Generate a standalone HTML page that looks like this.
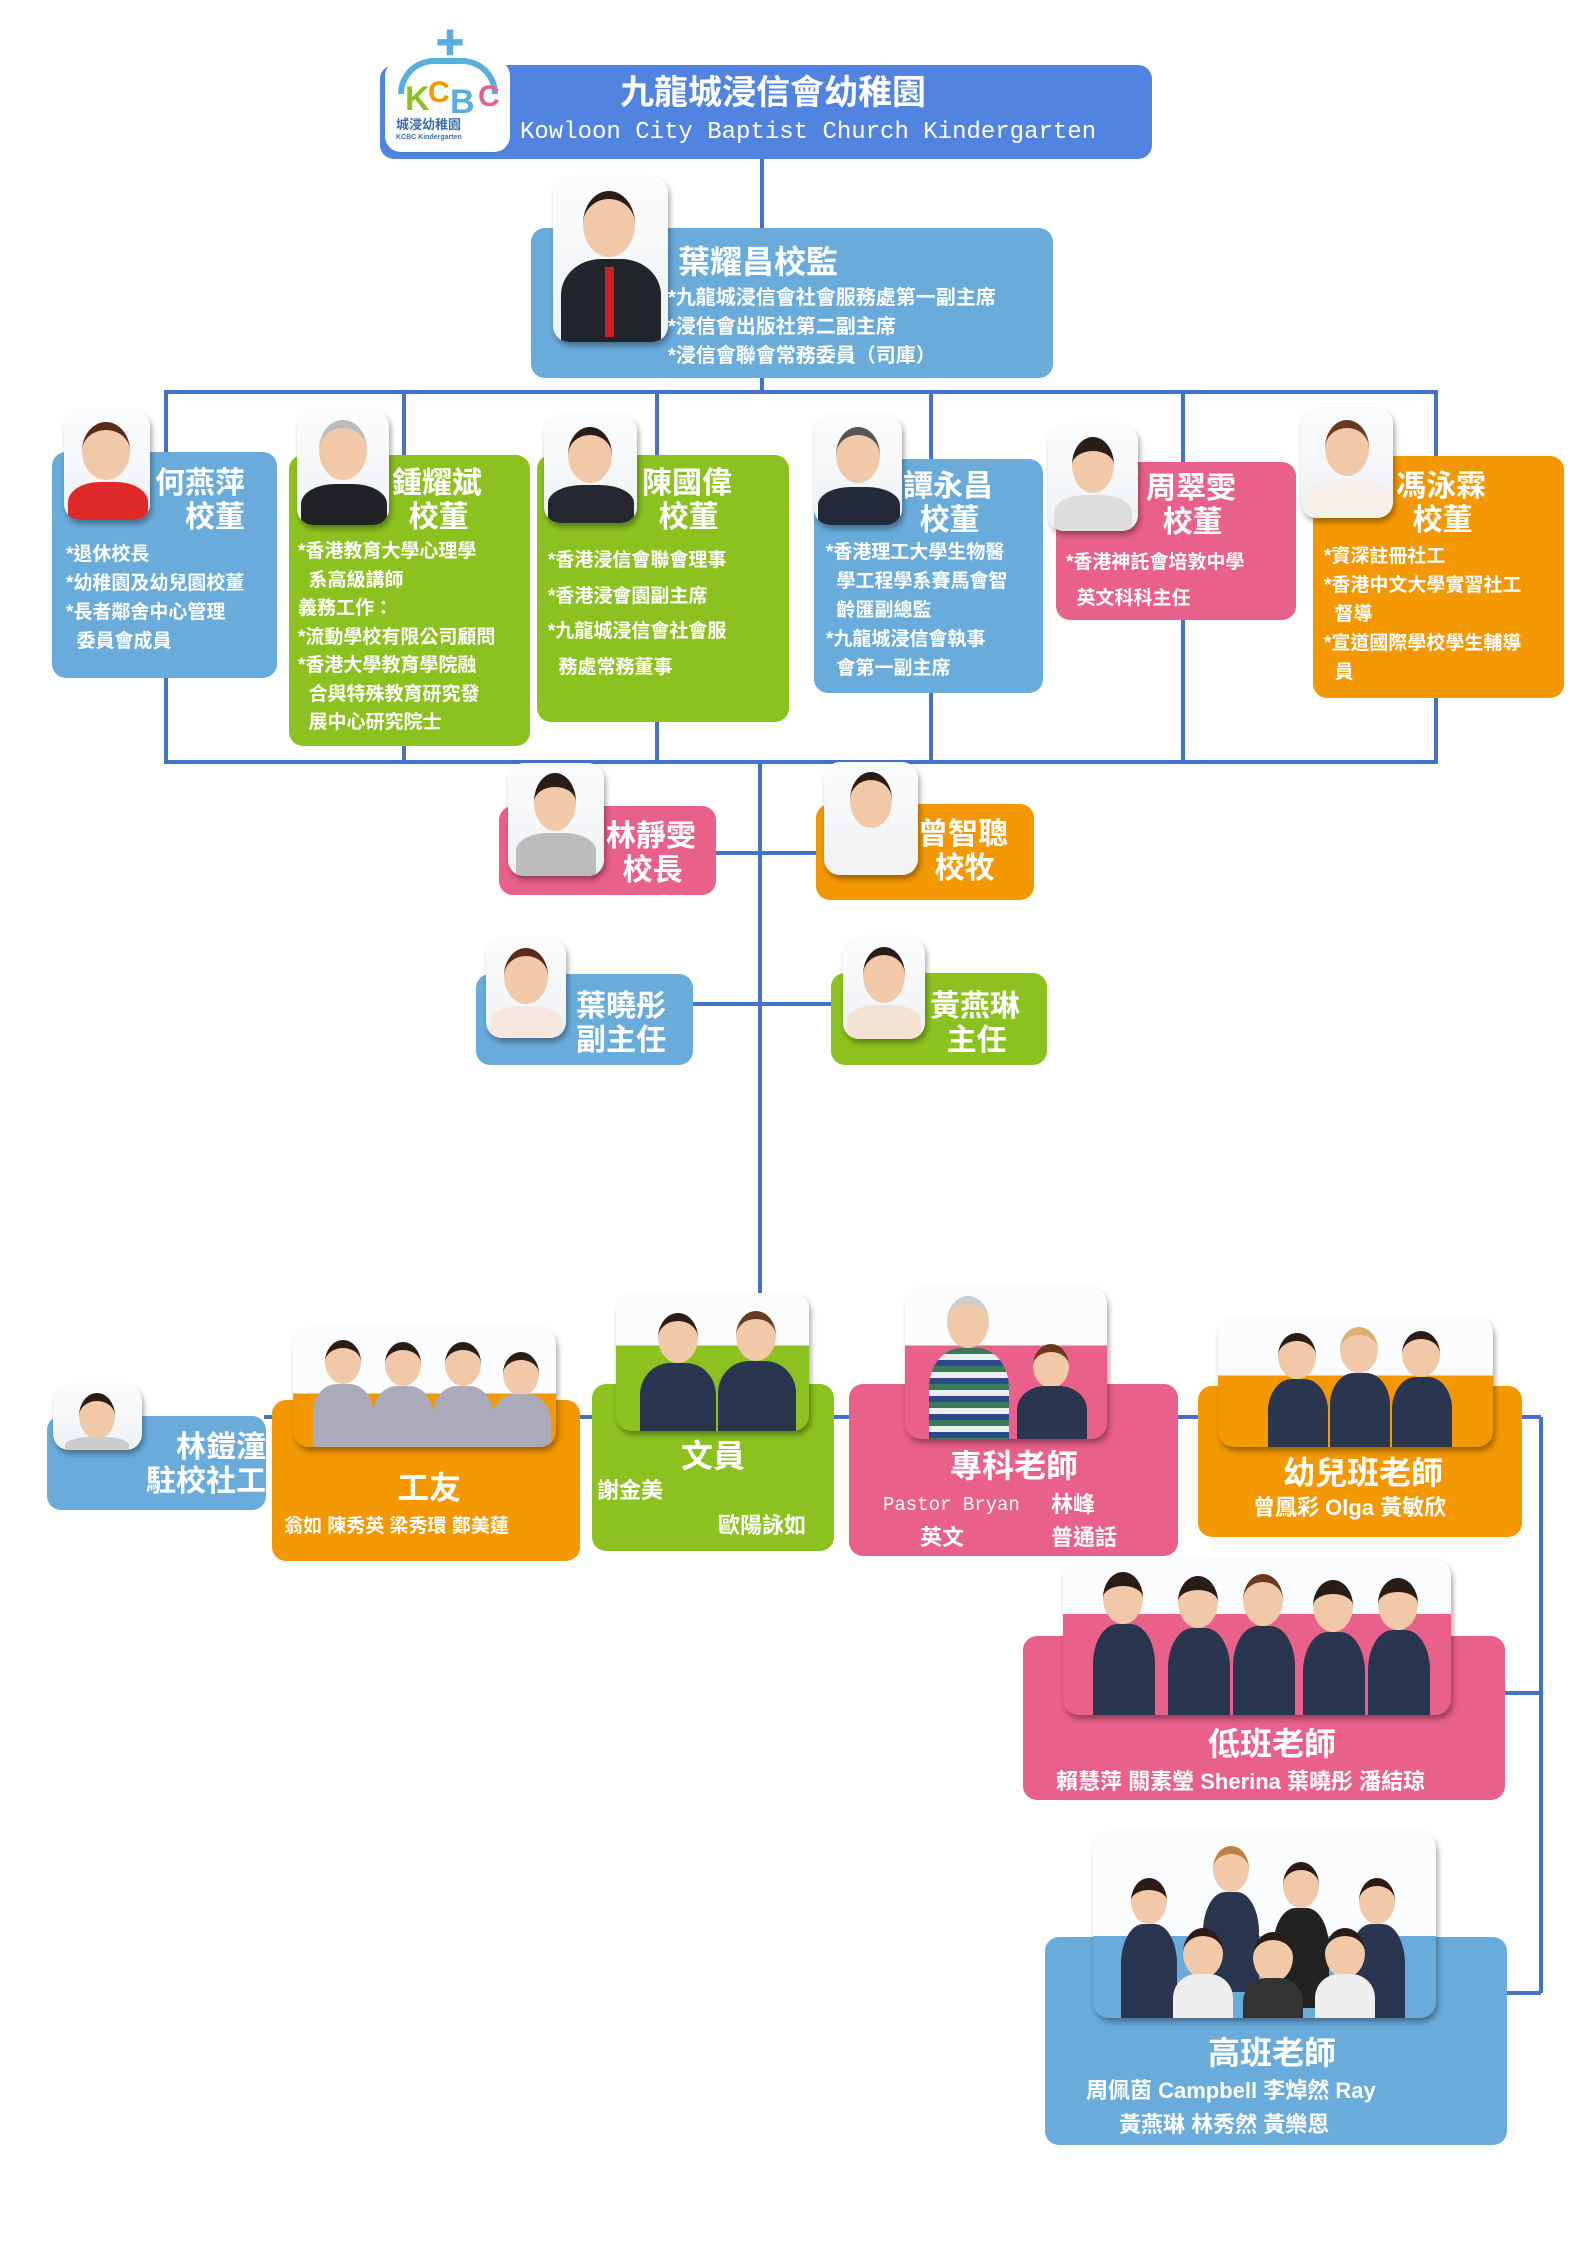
<!DOCTYPE html>
<html><head><meta charset="utf-8">
<style>
*{margin:0;padding:0;box-sizing:border-box}
body{width:1587px;height:2245px;background:#fff;position:relative;overflow:hidden;font-family:"Liberation Sans","Noto Sans CJK TC",sans-serif;color:#fff;font-weight:bold}
.b{position:absolute;border-radius:14px}
.blue{background:#69acdb}.green{background:#8cc21f}.pink{background:#e9608a}.orange{background:#f39800}
.ph{position:absolute;border-radius:16px;background:linear-gradient(#fbfcfd,#eef1f4);overflow:hidden;box-shadow:2px 4px 6px rgba(0,0,0,.35)}
.t{position:absolute;white-space:nowrap;line-height:1}
.p{position:absolute}
.p .h{position:absolute;border-radius:50%;background:#f2c9a8;border-top:8px solid #2a1c16}
.p .c{position:absolute;border-radius:40% 40% 6px 6px}
</style></head><body>
<svg width="1587" height="2245" style="position:absolute;left:0;top:0">
<g stroke="#4472c4" stroke-width="4" fill="none">
<line x1="762" y1="155" x2="762" y2="230"/>
<line x1="762" y1="378" x2="762" y2="392"/>
<rect x="166" y="392" width="1270" height="370"/>
<line x1="404" y1="392" x2="404" y2="762"/><line x1="657" y1="392" x2="657" y2="762"/>
<line x1="931" y1="392" x2="931" y2="762"/><line x1="1183" y1="392" x2="1183" y2="762"/>
<line x1="760" y1="762" x2="760" y2="1417"/>
<line x1="715" y1="853" x2="816" y2="853"/>
<line x1="693" y1="1004" x2="831" y2="1004"/>
<line x1="264" y1="1417" x2="1541" y2="1417"/>
<line x1="1541" y1="1417" x2="1541" y2="1993"/>
<line x1="1505" y1="1693" x2="1541" y2="1693"/>
<line x1="1507" y1="1993" x2="1541" y2="1993"/>
</g></svg>

<!-- Title -->
<div class="b" style="left:380px;top:65px;width:772px;height:94px;background:#5184e0"></div>
<div class="t" style="left:620px;top:76px;font-size:34px">九龍城浸信會幼稚園</div>
<div class="t" style="left:520px;top:121px;font-size:24px;font-family:'Liberation Mono',monospace;font-weight:normal">Kowloon City Baptist Church Kindergarten</div>
<div style="position:absolute;left:385px;top:60px;width:125px;height:92px;background:#fff;border-radius:16px"></div>
<div class="t" style="left:435px;top:30px;font-size:30px;color:#5aaedf">✚</div>
<div style="position:absolute;left:398px;top:58px;width:100px;height:36px;border:6px solid #5aaedf;border-bottom:none;border-radius:50px 50px 0 0"></div>
<div class="t" style="left:405px;top:82px;font-size:34px;color:#8cc21f">K</div>
<div class="t" style="left:428px;top:78px;font-size:30px;color:#f39800">C</div>
<div class="t" style="left:450px;top:85px;font-size:34px;color:#5aaedf">B</div>
<div class="t" style="left:478px;top:82px;font-size:30px;color:#e9608a">C</div>
<div class="t" style="left:396px;top:118px;font-size:13px;color:#3a6fb0">城浸幼稚園</div>
<div class="t" style="left:396px;top:134px;font-size:7px;color:#3a6fb0">KCBC Kindergarten</div>

<!-- Principal -->
<div class="b blue" style="left:531px;top:228px;width:522px;height:150px"></div>
<div class="ph" style="left:553px;top:177px;width:115px;height:165px">
<div class="p"><div class="h" style="left:30px;top:14px;width:52px;height:66px"></div><div class="c" style="left:8px;top:82px;width:100px;height:90px;background:#23252c"></div><div style="position:absolute;left:52px;top:90px;width:9px;height:70px;background:#d02020"></div></div></div>
<div class="t" style="left:678px;top:246px;font-size:32px">葉耀昌校監</div>
<div class="t" style="left:668px;top:284px;font-size:20px;line-height:29px">*九龍城浸信會社會服務處第一副主席<br>*浸信會出版社第二副主席<br>*浸信會聯會常務委員（司庫）</div>

<!-- Board -->
<div class="b blue" style="left:52px;top:452px;width:225px;height:226px"></div>
<div class="b green" style="left:289px;top:455px;width:241px;height:291px"></div>
<div class="b green" style="left:537px;top:455px;width:252px;height:267px"></div>
<div class="b blue" style="left:814px;top:459px;width:229px;height:234px"></div>
<div class="b pink" style="left:1056px;top:462px;width:240px;height:158px"></div>
<div class="b orange" style="left:1313px;top:456px;width:251px;height:242px"></div>

<div class="ph" style="left:64px;top:410px;width:86px;height:110px"><div class="p"><div class="h" style="left:18px;top:12px;width:48px;height:58px;border-top-color:#5a2a1a"></div><div class="c" style="left:4px;top:72px;width:80px;height:50px;background:#e02a2a"></div></div></div>
<div class="ph" style="left:297px;top:410px;width:92px;height:115px"><div class="p"><div class="h" style="left:22px;top:10px;width:48px;height:60px;border-top-color:#bbb"></div><div class="c" style="left:4px;top:74px;width:86px;height:50px;background:#202226"></div></div></div>
<div class="ph" style="left:544px;top:415px;width:93px;height:108px"><div class="p"><div class="h" style="left:24px;top:12px;width:44px;height:56px"></div><div class="c" style="left:4px;top:70px;width:86px;height:45px;background:#252830"></div></div></div>
<div class="ph" style="left:814px;top:415px;width:88px;height:110px"><div class="p"><div class="h" style="left:22px;top:12px;width:44px;height:56px;border-top-color:#555"></div><div class="c" style="left:4px;top:72px;width:82px;height:45px;background:#252a3a"></div></div></div>
<div class="ph" style="left:1048px;top:425px;width:90px;height:106px"><div class="p"><div class="h" style="left:24px;top:12px;width:42px;height:56px;border-top-width:14px"></div><div class="c" style="left:6px;top:70px;width:78px;height:45px;background:#ddd"></div></div></div>
<div class="ph" style="left:1301px;top:408px;width:92px;height:110px"><div class="p"><div class="h" style="left:24px;top:12px;width:44px;height:56px;border-top-color:#6a3a20"></div><div class="c" style="left:4px;top:72px;width:86px;height:45px;background:#f5f0ea"></div></div></div>

<div class="t" style="left:155px;top:467px;font-size:30px;text-align:right;line-height:34px">何燕萍<br>&nbsp;&nbsp;校董</div>
<div class="t" style="left:392px;top:467px;font-size:30px;line-height:34px">鍾耀斌<br>&nbsp;&nbsp;校董</div>
<div class="t" style="left:642px;top:467px;font-size:30px;line-height:34px">陳國偉<br>&nbsp;&nbsp;校董</div>
<div class="t" style="left:903px;top:470px;font-size:30px;line-height:34px">譚永昌<br>&nbsp;&nbsp;校董</div>
<div class="t" style="left:1146px;top:472px;font-size:30px;line-height:34px">周翠雯<br>&nbsp;&nbsp;校董</div>
<div class="t" style="left:1396px;top:470px;font-size:30px;line-height:34px">馮泳霖<br>&nbsp;&nbsp;校董</div>

<div class="t" style="left:66px;top:540px;font-size:19px;line-height:29px">*退休校長<br>*幼稚園及幼兒園校董<br>*長者鄰舍中心管理<br>&nbsp;&nbsp;委員會成員</div>
<div class="t" style="left:298px;top:538px;font-size:19px;line-height:28.5px">*香港教育大學心理學<br>&nbsp;&nbsp;系高級講師<br>義務工作：<br>*流動學校有限公司顧問<br>*香港大學教育學院融<br>&nbsp;&nbsp;合與特殊教育研究發<br>&nbsp;&nbsp;展中心研究院士</div>
<div class="t" style="left:548px;top:543px;font-size:19px;line-height:35.5px">*香港浸信會聯會理事<br>*香港浸會園副主席<br>*九龍城浸信會社會服<br>&nbsp;&nbsp;務處常務董事</div>
<div class="t" style="left:826px;top:538px;font-size:19px;line-height:29px">*香港理工大學生物醫<br>&nbsp;&nbsp;學工程學系賽馬會智<br>&nbsp;&nbsp;齡匯副總監<br>*九龍城浸信會執事<br>&nbsp;&nbsp;會第一副主席</div>
<div class="t" style="left:1066px;top:545px;font-size:19px;line-height:36px">*香港神託會培敦中學<br>&nbsp;&nbsp;英文科科主任</div>
<div class="t" style="left:1324px;top:542px;font-size:19px;line-height:29px">*資深註冊社工<br>*香港中文大學實習社工<br>&nbsp;&nbsp;督導<br>*宣道國際學校學生輔導<br>&nbsp;&nbsp;員</div>

<!-- Middle -->
<div class="b pink" style="left:499px;top:806px;width:217px;height:89px"></div>
<div class="b orange" style="left:816px;top:804px;width:218px;height:96px"></div>
<div class="b blue" style="left:476px;top:974px;width:217px;height:91px"></div>
<div class="b green" style="left:831px;top:973px;width:216px;height:92px"></div>
<div class="ph" style="left:508px;top:763px;width:96px;height:113px"><div class="p"><div class="h" style="left:26px;top:10px;width:42px;height:58px;border-top-width:14px"></div><div class="c" style="left:8px;top:70px;width:80px;height:45px;background:#bbb"></div></div></div>
<div class="ph" style="left:824px;top:762px;width:94px;height:113px"><div class="p"><div class="h" style="left:26px;top:10px;width:42px;height:56px"></div><div class="c" style="left:6px;top:70px;width:84px;height:45px;background:#f3f3f3"></div></div></div>
<div class="ph" style="left:486px;top:938px;width:80px;height:100px"><div class="p"><div class="h" style="left:18px;top:10px;width:44px;height:56px;border-top-color:#5a2a1a"></div><div class="c" style="left:4px;top:68px;width:72px;height:40px;background:#f7e5e0"></div></div></div>
<div class="ph" style="left:843px;top:937px;width:82px;height:102px"><div class="p"><div class="h" style="left:20px;top:10px;width:42px;height:56px"></div><div class="c" style="left:4px;top:68px;width:74px;height:40px;background:#f3e2d2"></div></div></div>
<div class="t" style="left:606px;top:820px;font-size:30px;line-height:34px">林靜雯<br>&nbsp;&nbsp;校長</div>
<div class="t" style="left:918px;top:818px;font-size:30px;line-height:34px">曾智聰<br>&nbsp;&nbsp;校牧</div>
<div class="t" style="left:576px;top:990px;font-size:30px;line-height:34px">葉曉彤<br>副主任</div>
<div class="t" style="left:930px;top:990px;font-size:30px;line-height:34px">黃燕琳<br>&nbsp;&nbsp;主任</div>

<!-- Bottom row -->
<div class="b blue" style="left:47px;top:1416px;width:219px;height:94px"></div>
<div class="b orange" style="left:272px;top:1400px;width:308px;height:161px"></div>
<div class="b green" style="left:592px;top:1384px;width:242px;height:167px"></div>
<div class="b pink" style="left:849px;top:1384px;width:329px;height:172px"></div>
<div class="b orange" style="left:1198px;top:1386px;width:324px;height:151px"></div>
<div class="b pink" style="left:1023px;top:1636px;width:482px;height:164px"></div>
<div class="b blue" style="left:1045px;top:1937px;width:462px;height:208px"></div>

<div class="ph" style="left:53px;top:1385px;width:89px;height:65px"><div class="p"><div class="h" style="left:26px;top:8px;width:36px;height:46px"></div><div class="c" style="left:12px;top:52px;width:64px;height:20px;background:#ccc"></div></div></div>
<div class="ph" style="left:293px;top:1328px;width:263px;height:119px;background:linear-gradient(#fbfcfd 55%,#f39800 55%)">
<div class="p" style="left:20px"><div class="h" style="left:12px;top:12px;width:36px;height:44px"></div><div class="c" style="left:0;top:56px;width:60px;height:70px;background:#aab"></div></div>
<div class="p" style="left:80px"><div class="h" style="left:12px;top:14px;width:36px;height:44px"></div><div class="c" style="left:0;top:58px;width:60px;height:70px;background:#aab"></div></div>
<div class="p" style="left:140px"><div class="h" style="left:12px;top:14px;width:36px;height:44px"></div><div class="c" style="left:0;top:58px;width:60px;height:70px;background:#aab"></div></div>
<div class="p" style="left:198px"><div class="h" style="left:12px;top:24px;width:36px;height:44px"></div><div class="c" style="left:0;top:66px;width:60px;height:70px;background:#aab"></div></div></div>
<div class="ph" style="left:616px;top:1293px;width:193px;height:138px;background:linear-gradient(#fbfcfd 38%,#8cc21f 38%)">
<div class="p" style="left:20px"><div class="h" style="left:22px;top:20px;width:40px;height:50px"></div><div class="c" style="left:4px;top:70px;width:76px;height:80px;background:#2a3550"></div></div>
<div class="p" style="left:100px"><div class="h" style="left:20px;top:18px;width:40px;height:50px;border-top-color:#6a3a20"></div><div class="c" style="left:2px;top:68px;width:78px;height:80px;background:#2a3550"></div></div></div>
<div class="ph" style="left:905px;top:1288px;width:202px;height:151px;background:linear-gradient(#fbfcfd 38%,#e9608a 38%)">
<div class="p" style="left:20px"><div class="h" style="left:22px;top:8px;width:42px;height:52px;border-top-color:#ccc"></div><div class="c" style="left:4px;top:60px;width:80px;height:100px;background:repeating-linear-gradient(#3a7a5a 0 6px,#eee 6px 12px,#2a4a8a 12px 18px)"></div></div>
<div class="p" style="left:110px"><div class="h" style="left:18px;top:56px;width:36px;height:44px;border-top-color:#6a3a20"></div><div class="c" style="left:2px;top:98px;width:70px;height:60px;background:#2a3550"></div></div></div>
<div class="ph" style="left:1218px;top:1317px;width:275px;height:130px;background:linear-gradient(#fbfcfd 45%,#f39800 45%)">
<div class="p" style="left:50px"><div class="h" style="left:10px;top:16px;width:38px;height:46px"></div><div class="c" style="left:0;top:62px;width:60px;height:80px;background:#2a3550"></div></div>
<div class="p" style="left:112px"><div class="h" style="left:10px;top:10px;width:38px;height:46px;border-top-color:#d9b070"></div><div class="c" style="left:0;top:56px;width:60px;height:80px;background:#2a3550"></div></div>
<div class="p" style="left:174px"><div class="h" style="left:10px;top:14px;width:38px;height:46px"></div><div class="c" style="left:0;top:60px;width:60px;height:80px;background:#2a3550"></div></div></div>
<div class="ph" style="left:1063px;top:1560px;width:388px;height:155px;background:linear-gradient(#fbfcfd 35%,#e9608a 35%)">
<div class="p" style="left:30px"><div class="h" style="left:10px;top:12px;width:40px;height:52px;border-top-width:14px"></div><div class="c" style="left:0;top:64px;width:62px;height:100px;background:#2a3550"></div></div>
<div class="p" style="left:105px"><div class="h" style="left:10px;top:16px;width:40px;height:52px;border-top-width:14px"></div><div class="c" style="left:0;top:68px;width:62px;height:100px;background:#2a3550"></div></div>
<div class="p" style="left:170px"><div class="h" style="left:10px;top:14px;width:40px;height:52px;border-top-color:#6a3a20"></div><div class="c" style="left:0;top:66px;width:62px;height:100px;background:#2a3550"></div></div>
<div class="p" style="left:240px"><div class="h" style="left:10px;top:20px;width:40px;height:52px;border-top-width:14px"></div><div class="c" style="left:0;top:72px;width:62px;height:100px;background:#2a3550"></div></div>
<div class="p" style="left:305px"><div class="h" style="left:10px;top:18px;width:40px;height:52px;border-top-width:14px"></div><div class="c" style="left:0;top:70px;width:62px;height:100px;background:#2a3550"></div></div></div>
<div class="ph" style="left:1093px;top:1832px;width:343px;height:186px;background:linear-gradient(#fbfcfd 56%,#69acdb 56%)">
<div class="p" style="left:28px"><div class="h" style="left:10px;top:46px;width:36px;height:46px;border-top-width:12px"></div><div class="c" style="left:0;top:92px;width:56px;height:100px;background:#2a3550"></div></div>
<div class="p" style="left:110px"><div class="h" style="left:10px;top:14px;width:36px;height:46px;border-top-color:#c08040"></div><div class="c" style="left:0;top:60px;width:56px;height:100px;background:#2a3550"></div></div>
<div class="p" style="left:180px"><div class="h" style="left:10px;top:30px;width:36px;height:46px"></div><div class="c" style="left:0;top:76px;width:56px;height:100px;background:#222"></div></div>
<div class="p" style="left:256px"><div class="h" style="left:10px;top:46px;width:36px;height:46px"></div><div class="c" style="left:0;top:92px;width:56px;height:100px;background:#2a3550"></div></div>
<div class="p" style="left:80px"><div class="h" style="left:10px;top:96px;width:40px;height:50px"></div><div class="c" style="left:0;top:142px;width:60px;height:60px;background:#eee"></div></div>
<div class="p" style="left:150px"><div class="h" style="left:10px;top:100px;width:40px;height:50px"></div><div class="c" style="left:0;top:146px;width:60px;height:60px;background:#333"></div></div>
<div class="p" style="left:222px"><div class="h" style="left:10px;top:96px;width:40px;height:50px"></div><div class="c" style="left:0;top:142px;width:60px;height:60px;background:#eee"></div></div></div>

<div class="t" style="left:146px;top:1431px;font-size:30px;line-height:34px;text-align:right">&nbsp;&nbsp;林鎧潼<br>駐校社工</div>
<div class="t" style="left:397px;top:1472px;font-size:32px">工友</div>
<div class="t" style="left:284px;top:1517px;font-size:19px">翁如 陳秀英 梁秀環 鄭美蓮</div>
<div class="t" style="left:681px;top:1440px;font-size:32px">文員</div>
<div class="t" style="left:597px;top:1480px;font-size:22px">謝金美</div>
<div class="t" style="left:718px;top:1515px;font-size:22px">歐陽詠如</div>
<div class="t" style="left:950px;top:1450px;font-size:32px">專科老師</div>
<div class="t" style="left:883px;top:1496px;font-size:19px;font-family:'Liberation Mono',monospace;font-weight:normal">Pastor Bryan</div>
<div class="t" style="left:1051px;top:1494px;font-size:22px">林峰</div>
<div class="t" style="left:920px;top:1527px;font-size:22px">英文</div>
<div class="t" style="left:1051px;top:1527px;font-size:22px">普通話</div>
<div class="t" style="left:1283px;top:1457px;font-size:32px">幼兒班老師</div>
<div class="t" style="left:1253px;top:1497px;font-size:22px">曾鳳彩 Olga 黃敏欣</div>
<div class="t" style="left:1208px;top:1728px;font-size:32px">低班老師</div>
<div class="t" style="left:1056px;top:1771px;font-size:22px">賴慧萍 關素瑩 Sherina 葉曉彤 潘結琼</div>
<div class="t" style="left:1208px;top:2037px;font-size:32px">高班老師</div>
<div class="t" style="left:1086px;top:2080px;font-size:22px">周佩茵 Campbell 李焯然 Ray</div>
<div class="t" style="left:1119px;top:2114px;font-size:22px">黃燕琳 林秀然 黃樂恩</div>
</body></html>
